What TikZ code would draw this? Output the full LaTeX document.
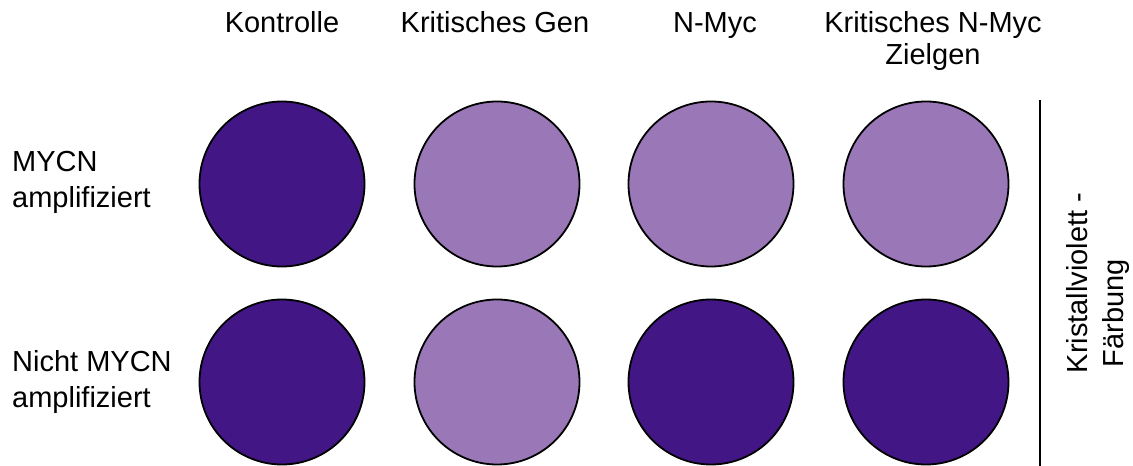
\documentclass[tikz,border=0pt]{standalone}
\usepackage{fontspec}
\setmainfont{Liberation Sans}
\definecolor{darkviolet}{RGB}{66,22,132}
\definecolor{lightviolet}{RGB}{154,119,182}
\begin{document}
\begin{tikzpicture}[x=1pt,y=1pt,
  well/.style={circle,draw=black,line width=1.8pt,minimum size=165pt,inner sep=0pt},
  dark/.style={well,fill=darkviolet},
  light/.style={well,fill=lightviolet},
  head/.style={inner sep=0pt,align=center,anchor=base,font=\fontsize{29}{32}\selectfont},
  rowlab/.style={inner sep=0pt,align=left,anchor=base west,font=\fontsize{29}{36}\selectfont},
  sidelab/.style={inner sep=0pt,align=center,anchor=base,rotate=90,font=\fontsize{29}{36}\selectfont}]
\useasboundingbox (0,0) rectangle (1133,466);
% headers
\node[head] (h1) at (282,433) {Kontrolle};
\node[head] (h2) at (495,433) {Kritisches Gen};
\node[head] (h3) at (715,433) {N-Myc};
\node[head] (h4) at (933,401) {Kritisches N-Myc\\Zielgen};
% row labels
\node[rowlab] (r1) at (12,258) {MYCN\\amplifiziert};
\node[rowlab] (r2) at (12,58) {Nicht MYCN\\amplifiziert};
% wells
\node[dark]  (a1) at (282,282) {};
\node[light] (a2) at (497,282) {};
\node[light] (a3) at (711,282) {};
\node[light] (a4) at (926,282) {};
\node[dark]  (b1) at (282,84) {};
\node[light] (b2) at (497,84) {};
\node[dark]  (b3) at (711,84) {};
\node[dark]  (b4) at (926,84) {};
% side bracket
\coordinate (lt) at (1040,366);
\coordinate (lb) at (1040,0);
\draw[line width=1.5pt] (lt) -- (lb);
\node[sidelab] (side) at (1123,183) {Kristallviolett -\\Färbung\hspace*{60pt}};
\end{tikzpicture}
\end{document}
